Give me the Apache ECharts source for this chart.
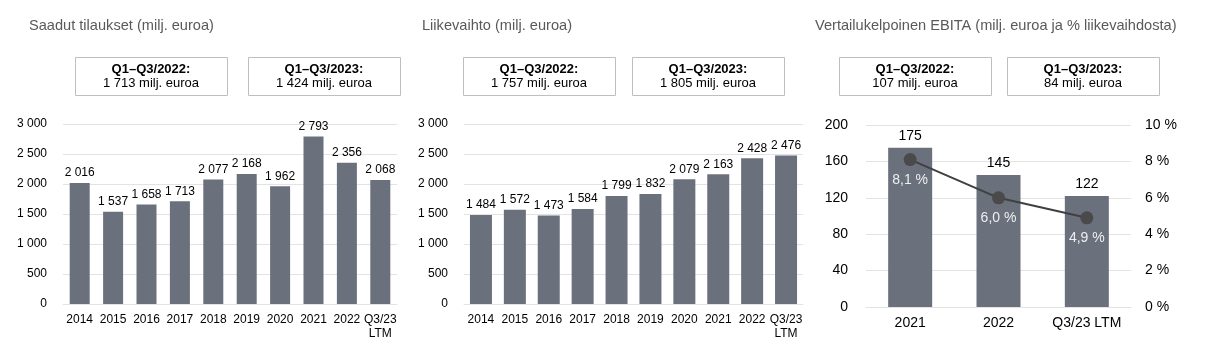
<!DOCTYPE html>
<html><head><meta charset="utf-8">
<script src="https://cdn.jsdelivr.net/npm/echarts@6/dist/echarts.min.js"></script>
<style>html,body{margin:0;padding:0;background:#fff}#c{width:1205px;height:350px}</style>
</head><body><div id="c"></div>
<script>
const years = ['2014','2015','2016','2017','2018','2019','2020','2021','2022','Q3/23\nLTM'];
const orders = [2016,1537,1658,1713,2077,2168,1962,2793,2356,2068];
const sales = [1484,1572,1473,1584,1799,1832,2079,2163,2428,2476];
const ebitaCats = ['2021','2022','Q3/23 LTM'];
const ebita = [175,145,122];
const ebitaPct = [8.1,6.0,4.9];
const titles = ['Saadut tilaukset (milj. euroa)','Liikevaihto (milj. euroa)','Vertailukelpoinen EBITA (milj. euroa ja % liikevaihdosta)'];
const boxHeads = ['Q1–Q3/2022:','Q1–Q3/2023:'];
const boxValues = [['1 713 milj. euroa','1 424 milj. euroa'],['1 757 milj. euroa','1 805 milj. euroa'],['107 milj. euroa','84 milj. euroa']];

const FONT = '"Liberation Sans", Arial, sans-serif';
const BAR = '#6b707d';
const GRID = '#e3e3e3';
const fmt = v => String(v).replace(/\B(?=(\d{3})+(?!\d))/g, '\u00a0');
const pct = v => v.toFixed(1).replace('.', ',') + ' %';

const titleX = [29, 422, 815];
const boxX = [[75,248],[463,632],[839,1007]];
const graphic = [];
titles.forEach((t,i)=>{
  graphic.push({type:'text', x:titleX[i], y:26, style:{text:t, font:'14.6px '+FONT, fill:'#595959', textVerticalAlign:'middle'}});
});
boxX.forEach((pair,i)=>{
  pair.forEach((x,j)=>{
    graphic.push({type:'rect', shape:{x:x+0.5,y:57.5,width:152,height:38}, style:{fill:'#fff', stroke:'#bfbfbf', lineWidth:1}});
    graphic.push({type:'text', x:x+76, y:69, style:{text:boxHeads[j], font:'bold 13px '+FONT, fill:'#000', textAlign:'center', textVerticalAlign:'middle'}});
    graphic.push({type:'text', x:x+76, y:83, style:{text:boxValues[i][j], font:'13px '+FONT, fill:'#000', textAlign:'center', textVerticalAlign:'middle'}});
  });
});

function catAxis(idx, data, fs, margin){
  return {type:'category', gridIndex:idx, data:data, axisTick:{show:false},
    axisLine:{show:true, lineStyle:{color:GRID, width:1}},
    axisLabel:{color:'#000', fontSize:fs, fontFamily:FONT, margin:margin, interval:0, lineHeight:14}};
}
function valAxis(idx, max, interval, fs, formatter, margin, pos){
  return {type:'value', gridIndex:idx, min:0, max:max, interval:interval, position:pos||'left',
    axisLine:{show:false}, axisTick:{show:false},
    splitLine:{show:true, lineStyle:{color:GRID, width:1}},
    axisLabel:{color:'#000', fontSize:fs, fontFamily:FONT, formatter:formatter, margin:margin}};
}

const option = {
  animation:false,
  textStyle:{fontFamily:FONT},
  graphic: graphic,
  grid:[
    {left:63, width:334, top:124, bottom:46},
    {left:464, width:339, top:124, bottom:46},
    {left:866, width:265, top:125, bottom:43}
  ],
  xAxis:[catAxis(0, years, 12, 9), catAxis(1, years, 12, 9), catAxis(2, ebitaCats, 14, 9)],
  yAxis:[
    valAxis(0, 3000, 500, 12, fmt, 16),
    valAxis(1, 3000, 500, 12, fmt, 16),
    valAxis(2, 200, 40, 14, v=>v, 18),
    Object.assign(valAxis(2, 10, 2, 14, v=>v+' %', 14, 'right'), {splitLine:{show:false}})
  ],
  series:[
    {type:'bar', xAxisIndex:0, yAxisIndex:0, data:orders, barWidth:20, itemStyle:{color:BAR},
      label:{show:true, position:'top', distance:4, color:'#000', fontSize:12, formatter:p=>fmt(p.value)}},
    {type:'bar', xAxisIndex:1, yAxisIndex:1, data:sales, barWidth:22, itemStyle:{color:BAR},
      label:{show:true, position:'top', distance:4, color:'#000', fontSize:12, formatter:p=>fmt(p.value)}},
    {type:'bar', xAxisIndex:2, yAxisIndex:2, data:ebita, barWidth:44, itemStyle:{color:BAR},
      label:{show:true, position:'top', distance:5, color:'#000', fontSize:14, formatter:p=>fmt(p.value)}},
    {type:'line', xAxisIndex:2, yAxisIndex:3, data:ebitaPct, symbol:'circle', symbolSize:13,
      lineStyle:{color:'#404040', width:2}, itemStyle:{color:'#4a4a4a'},
      label:{show:true, position:'bottom', distance:7, color:'#eeeeee', fontSize:14, formatter:p=>pct(p.value)}}
  ]
};
echarts.init(document.getElementById('c'), null, {renderer:'canvas'}).setOption(option);
</script>
</body></html>
